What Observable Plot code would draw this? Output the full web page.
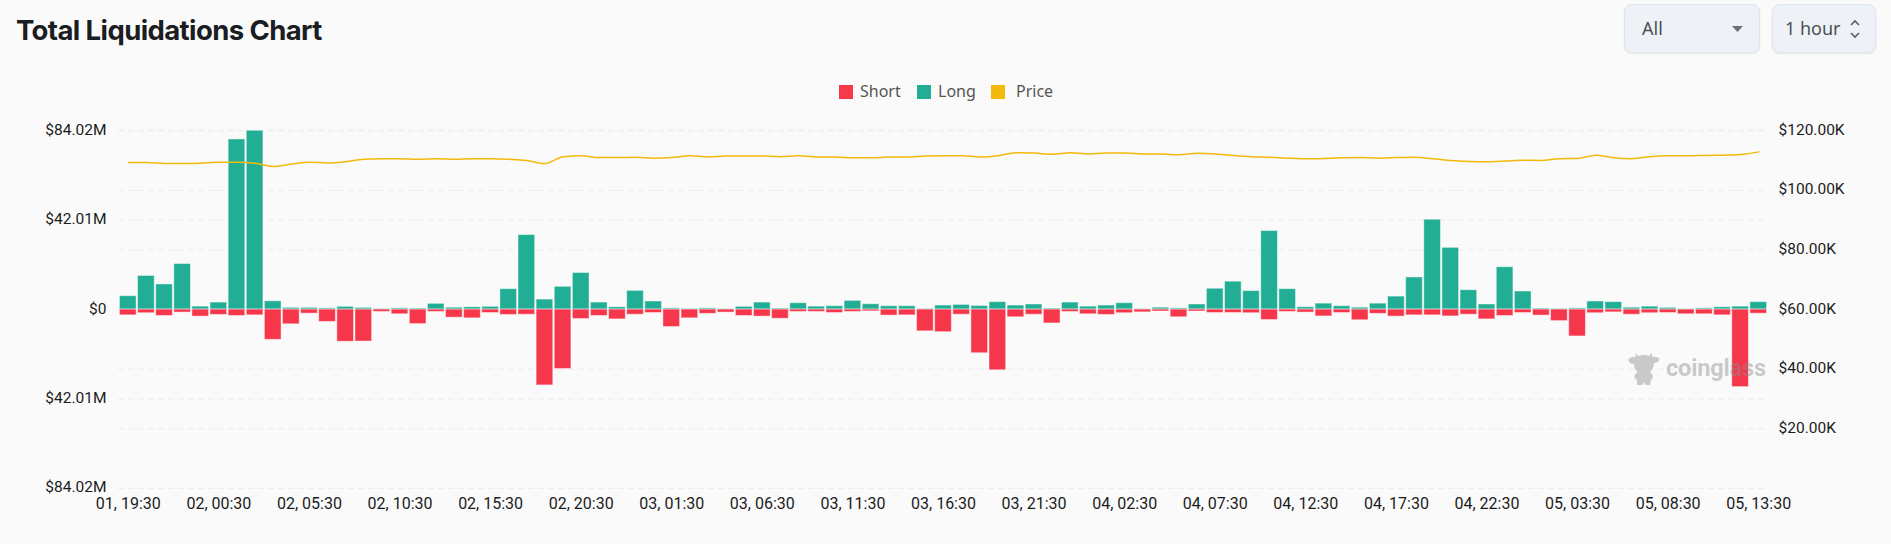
<!DOCTYPE html>
<html><head><meta charset="utf-8">
<script src="https://cdn.jsdelivr.net/npm/d3@7"></script>
<script src="https://cdn.jsdelivr.net/npm/@observablehq/plot@0.6"></script>
<style>
html,body{margin:0;padding:0;background:#fafafa;width:1891px;height:544px;overflow:hidden}
#head{position:relative;height:110px;width:1891px}
#title{position:absolute;left:16px;top:13px;font:700 27.5px Inter,sans-serif;letter-spacing:-.6px;color:#1a1d21;white-space:nowrap}
.ctl{position:absolute;top:4px;height:49px;box-sizing:border-box;background:#eef2f6;border:1px solid #dce6ee;border-radius:8px;box-shadow:0 1px 2px rgba(0,0,0,.08);font:18px "Noto Sans",sans-serif;color:#4a5057;line-height:46px}
.ctl span{position:absolute;top:0}
.lg{position:absolute;top:85px;width:14px;height:14px}
.lt{position:absolute;top:79px;font:16px "Noto Sans",sans-serif;color:#555;line-height:24px}
#wm{position:absolute;left:1628px;top:351px;width:140px;height:36px;z-index:2}
#wm b{font:700 23.6px "Roboto",sans-serif;color:rgba(140,140,140,.45);letter-spacing:-.2px;position:absolute;left:38px;top:3px}
#chart{position:absolute;left:0;top:110px;z-index:1}
</style></head><body>
<div id="head">
<div id="title">Total Liquidations Chart</div>
<div class="ctl" style="left:1624px;width:136px"><span style="left:17px">All</span>
<svg style="position:absolute;left:107px;top:21px" width="11" height="6"><path d="M0 0H11L5.5 6Z" fill="#6b7178"/></svg></div>
<div class="ctl" style="left:1772px;width:104px"><span style="left:12px">1 hour</span>
<svg style="position:absolute;left:77px;top:14px" width="10" height="20"><path d="M1 6L5 2L9 6M1 14L5 18L9 14" fill="none" stroke="#5a6066" stroke-width="1.6"/></svg></div>
<div class="lg" style="left:839px;background:#f6394b"></div><div class="lt" style="left:860px">Short</div>
<div class="lg" style="left:917px;background:#21ae94"></div><div class="lt" style="left:938px">Long</div>
<div class="lg" style="left:991px;background:#f3b90b"></div><div class="lt" style="left:1016px">Price</div>
</div>
<div id="wm"><svg width="32" height="36" viewBox="0 0 32 36"><path d="M8 2L10 5C12 3.500 19 3.500 21 5L24 1.500L24 5.500C27 6 31 6 31.500 8C31 11 28 12 26 12C26 16 24 19 22 21C25 23 26 27 23 29L22 34H17L16 31L14 34H9L9 29C5 27 6 23 10 21C7 19 6 16 6 13C3 13 0 11 0.500 8C2 6 5 6 7.500 6Z" fill="#c9c9c9"/></svg><b>coinglass</b></div>
<div id="chart"></div>
<script>
const times = d3.range(91).map(i => {
  const h = 19.5 + i, day = 1 + Math.floor(h / 24), hh = Math.floor(h % 24);
  return `${String(day).padStart(2,"0")}, ${String(hh).padStart(2,"0")}:30`;
});
const longM = [6.3,15.8,11.8,21.4,1.4,3.3,79.9,84.0,3.9,.8,.8,.6,1.3,.8,.3,.6,.5,2.7,.9,1.1,1.3,9.6,35.0,4.7,10.7,17.2,3.3,1.1,8.8,
3.8,.6,.3,.6,.2,1.3,3.3,.5,3.0,1.4,1.6,4.1,2.5,1.6,1.6,.3,1.9,2.2,1.7,3.5,1.9,2.4,.5,3.3,1.4,1.9,3.0,.2,.9,.6,2.4,9.8,13.1,8.7,36.9,
9.6,1.1,2.8,1.6,.9,2.8,6.1,15.1,42.2,29.0,9.1,2.4,19.9,8.5,.5,.3,.6,3.8,3.5,.9,1.4,.8,.2,.6,1.1,1.4,3.5];
const shortM = [2.7,1.7,3.0,1.4,3.3,2.5,3.0,2.7,14.2,6.9,1.9,5.8,15.1,15.0,1.1,2.2,6.8,1.1,3.8,4.1,1.6,2.5,2.4,35.6,27.9,4.4,3.0,4.6,2.4,
1.6,8.2,4.1,2.0,1.4,3.0,3.3,4.3,1.1,1.1,1.6,1.1,.8,2.8,2.7,10.2,10.6,2.4,20.5,28.5,3.6,2.4,6.5,1.1,2.2,2.5,1.7,1.3,.9,3.6,.9,1.6,1.6,1.7,4.9,
1.1,1.4,3.2,1.6,5.0,2.0,3.3,2.7,2.7,3.2,2.4,4.6,3.0,1.6,2.8,5.4,12.6,1.7,1.3,2.4,1.7,1.6,2.2,2.2,2.7,36.4,1.9];
const priceK = [109.3,109.3,109.0,109.0,109.1,109.4,109.4,109.1,108.0,108.8,109.4,109.2,109.6,110.4,110.6,110.6,110.4,110.6,110.4,110.6,110.6,110.4,110.0,109.0,111.3,111.6,111.0,111.0,111.1,
110.8,111.0,111.6,111.2,111.5,111.5,111.5,111.3,111.6,111.2,111.2,110.9,110.9,111.2,111.2,111.5,111.6,111.6,111.2,111.6,112.6,112.5,112.1,112.6,112.2,112.5,112.5,112.2,112.2,111.9,112.4,112.2,111.7,111.3,111.1,
110.8,110.6,110.7,110.9,111.0,110.8,111.0,111.1,110.6,110.0,109.7,109.6,109.8,110.1,110.0,110.6,110.7,111.8,110.9,110.6,111.3,111.6,111.6,111.7,111.8,112.0,112.9];
const leftTicks = [84.02,42.01,0,-42.01,-84.02];
const rightTicks = [120,100,80,60,40,20];
const gridPrice = [120,100,80,60,40,20,0];
const xLabels = times.filter((_, i) => i % 5 === 0);

const priceToY = p => (p - 60) * 84.02 / 60;
const yToPrice = y => y * 60 / 84.02 + 60;
const rows = times.map((t, i) => ({t, long: longM[i], short: -shortM[i], price: priceToY(priceK[i])}));

const plot = Plot.plot({
  width: 1891, height: 434,
  marginLeft: 118, marginRight: 123, marginTop: 20.2, marginBottom: 56,
  style: {background: "transparent", fontFamily: "Roboto, sans-serif", overflow: "visible"},
  x: {type: "band", domain: times, padding: 0.08, round: false, label: null},
  y: {domain: [-84.02, 84.02], label: null},
  marks: [
    Plot.ruleY([...leftTicks, ...gridPrice.map(priceToY)], {stroke: "#ececec", strokeWidth: 1, strokeDasharray: "6 4"}),
    Plot.barY(rows, {x: "t", y: "long", fill: "#21ae94", stroke: "#fff", strokeOpacity: 0.45, strokeWidth: 1}),
    Plot.barY(rows, {x: "t", y: "short", fill: "#f6364a", stroke: "#fff", strokeOpacity: 0.45, strokeWidth: 1}),
    Plot.line(rows, {x: "t", y: "price", stroke: "#f3b90b", strokeWidth: 1.5, curve: "monotone-x"}),
    Plot.axisY({anchor: "left", ticks: leftTicks, tickSize: 0, tickPadding: 12, label: null, fontSize: 15.5, fill: "#1c1c1c", dy: -1,
      tickFormat: d => d === 0 ? "$0" : `$${Math.abs(d).toFixed(2)}M`}),
    Plot.axisY({anchor: "right", ticks: rightTicks.map(priceToY), tickSize: 0, tickPadding: 10, label: null, fontSize: 15.5, fill: "#1c1c1c", dy: -1,
      tickFormat: d => `$${Math.round(yToPrice(d)).toFixed(2)}K`}),
    Plot.axisX({ticks: xLabels, tickSize: 0, tickPadding: 9, label: null, fontSize: 16, fill: "#1c1c1c"})
  ]
});
document.getElementById("chart").appendChild(plot);
</script>
</body></html>
